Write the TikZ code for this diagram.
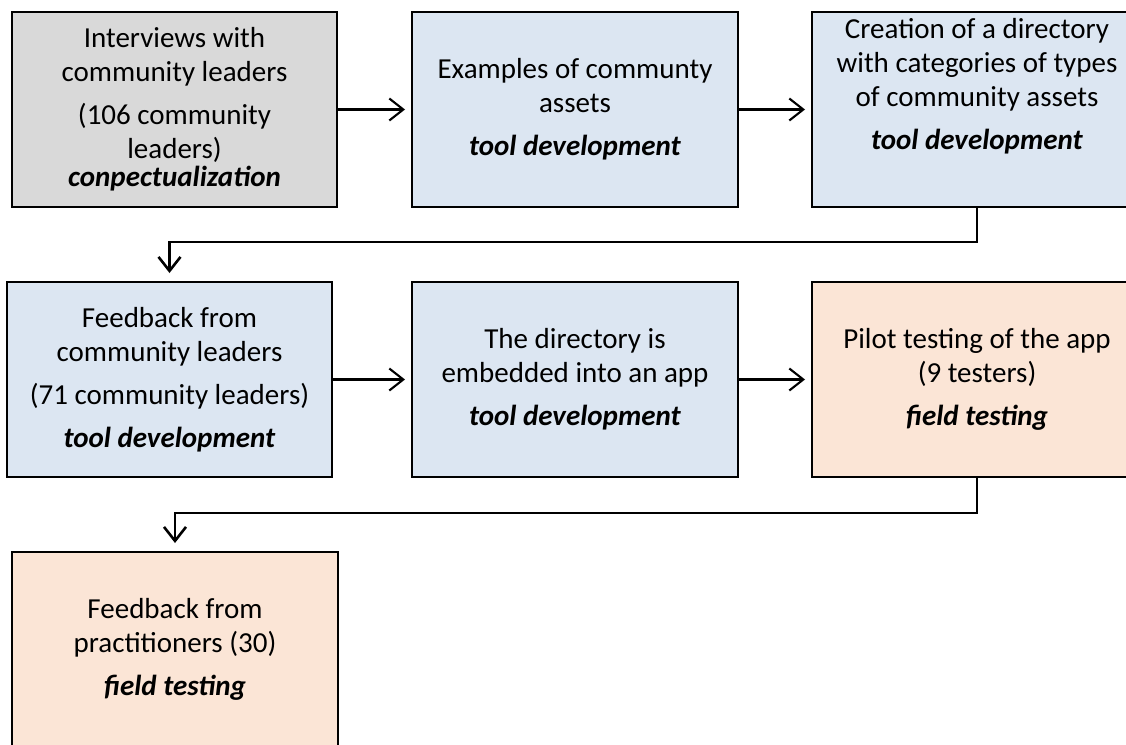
\documentclass[tikz,border=0pt]{standalone}
\usepackage{fontspec}
\setmainfont{Carlito}
\usetikzlibrary{arrows.meta}
\definecolor{boxgray}{HTML}{D9D9D9}
\definecolor{boxblue}{HTML}{DCE6F2}
\definecolor{boxpeach}{HTML}{FBE5D6}
\newcommand{\stage}[1]{\textbf{\textit{#1}}}
\begin{document}
\begin{tikzpicture}[x=1pt,y=-1pt,
  box/.style={draw=black, line width=2.8pt, align=center, inner sep=0pt, outer sep=0pt,
    minimum height=195pt, anchor=north west, font=\fontsize{29}{34}\selectfont},
  arr/.style={draw=black, line width=2.1pt, -{Straight Barb[length=14pt,width=22pt]}, shorten >=7pt},
  elb/.style={draw=black, line width=2.6pt, -{Straight Barb[length=14pt,width=22pt]}, shorten >=9pt}]
\useasboundingbox (0,0) rectangle (1126,744);
\node[box, fill=boxgray, minimum width=325pt] (n1) at (12,12)
  {Interviews with\\community leaders\\[9pt](106 community\\leaders)\\[-6pt]\stage{conpectualization}};
\node[box, fill=boxblue, minimum width=326pt] (n2) at (412,12)
  {Examples of communty\\assets\\[9pt]\stage{tool development}};
\node[box, fill=boxblue, minimum width=330pt] (n3) at (812,12)
  {Creation of a directory\\with categories of types\\of community assets\\[9pt]\stage{tool development}\\[18pt]\mbox{}};
\node[box, fill=boxblue, minimum width=325pt] (n4) at (7,282)
  {Feedback from\\community leaders\\[9pt](71 community leaders)\\[9pt]\stage{tool development}};
\node[box, fill=boxblue, minimum width=326pt] (n5) at (412,282)
  {The directory is\\embedded into an app\\[9pt]\stage{tool development}};
\node[box, fill=boxpeach, minimum width=330pt] (n6) at (812,282)
  {Pilot testing of the app\\(9 testers)\\[9pt]\stage{field testing}};
\node[box, fill=boxpeach, minimum width=326pt] (n7) at (12,552)
  {Feedback from\\practitioners (30)\\[9pt]\stage{field testing}};
\draw[arr] (n1.east) -- (n2.west);
\draw[arr] (n2.east) -- (n3.west);
\draw[arr] (n4.east) -- (n5.west);
\draw[arr] (n5.east) -- (n6.west);
\draw[elb] (n3.south) -- ++(0,35) -| (n4.north);
\draw[elb] (n6.south) -- ++(0,36) -| (n7.north);
\end{tikzpicture}
\end{document}
